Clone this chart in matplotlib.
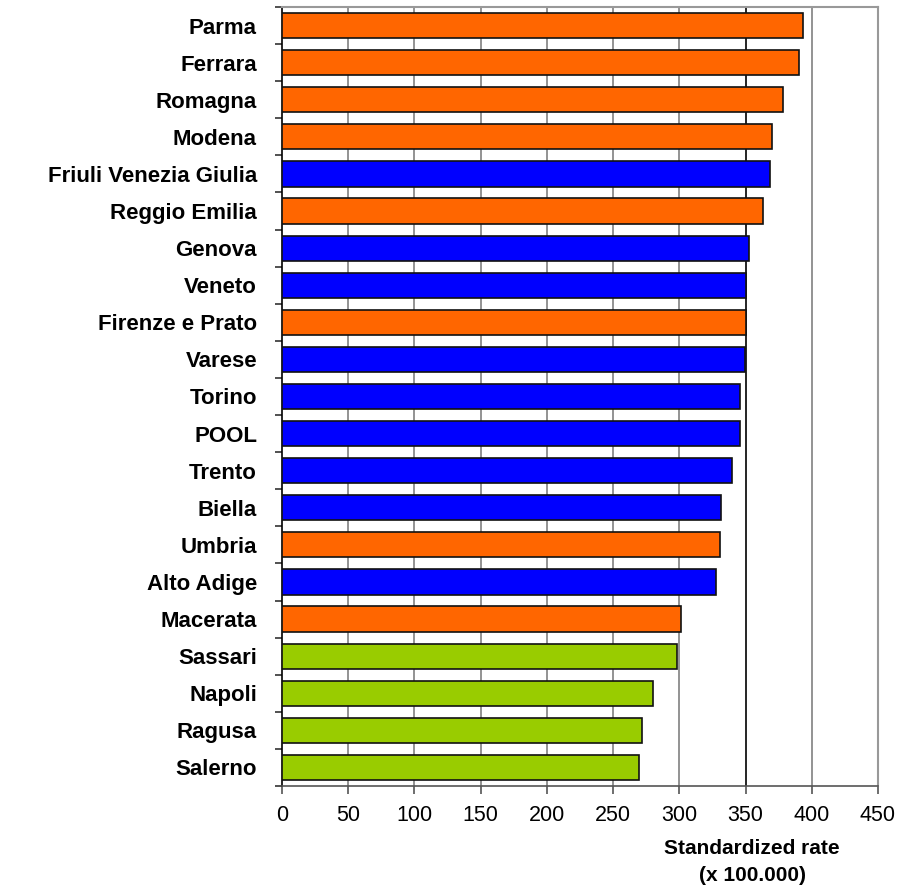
import numpy as np
import matplotlib.pyplot as plt

plt.rcParams['font.family'] = ['Liberation Sans Narrow', 'Liberation Sans', 'DejaVu Sans']

# top to bottom
regions = ["Parma", "Ferrara", "Romagna", "Modena", "Friuli Venezia Giulia",
           "Reggio Emilia", "Genova", "Veneto", "Firenze e Prato", "Varese",
           "Torino", "POOL", "Trento", "Biella", "Umbria", "Alto Adige",
           "Macerata", "Sassari", "Napoli", "Ragusa", "Salerno"]
rates = [393.4, 390.4, 378.3, 369.6, 368.7, 363.5, 352.4, 350.6, 350.3, 349.4,
         345.8, 345.8, 339.7, 331.6, 330.7, 327.7, 301.5, 298.5, 280.4, 271.7,
         269.6]
# o = orange, b = blue, g = green
groups = ["o", "o", "o", "o", "b", "o", "b", "b", "o", "b", "b", "b", "b",
          "b", "o", "b", "o", "g", "g", "g", "g"]

colmap = {"o": "#FF6600", "b": "#0000FF", "g": "#99CC00"}
cols = [colmap[g] for g in groups]

fig = plt.figure(figsize=(8.98, 8.89), dpi=100)
ax = fig.add_axes([282/898, 1 - 786/889, 596/898, 779/889])

n = len(regions)
y = np.arange(n)
ax.barh(y, rates, height=0.68, color=cols, edgecolor="#111111", linewidth=1.2, zorder=3)

ax.set_xlim(0, 450)
ax.set_ylim(n - 0.5, -0.5)

xt = np.arange(0, 451, 50)
ax.set_xticks(xt)
ax.set_xticklabels([str(v) for v in xt], fontsize=15.5)
for v in xt[1:-1]:
    c = "black" if v == 350 else "#808080"
    ax.axvline(v, color=c, linewidth=1.2, zorder=1)

ax.set_yticks(y)
ax.set_yticklabels(regions, fontsize=16, fontweight="bold")
ax.tick_params(axis="y", length=0, pad=18)
ax.set_yticks(np.arange(-0.5, n, 1), minor=True)
ax.tick_params(axis="y", which="minor", length=5, width=1.2, color="#333333")
ax.tick_params(axis="x", length=6, width=1.2, color="#555555", pad=8)

for s in ["top", "right"]:
    ax.spines[s].set_color("#999999")
    ax.spines[s].set_linewidth(1.5)
ax.spines["left"].set_color("black")
ax.spines["left"].set_linewidth(1.2)
ax.spines["bottom"].set_color("#555555")
ax.spines["bottom"].set_linewidth(1.2)

ax.text(355, -0.08, "Standardized rate", transform=ax.get_xaxis_transform(),
        ha="center", va="center", fontsize=15, fontweight="bold")
ax.text(355, -0.115, "(x 100.000)", transform=ax.get_xaxis_transform(),
        ha="center", va="center", fontsize=15, fontweight="bold")

fig.savefig("out.png", dpi=100)
